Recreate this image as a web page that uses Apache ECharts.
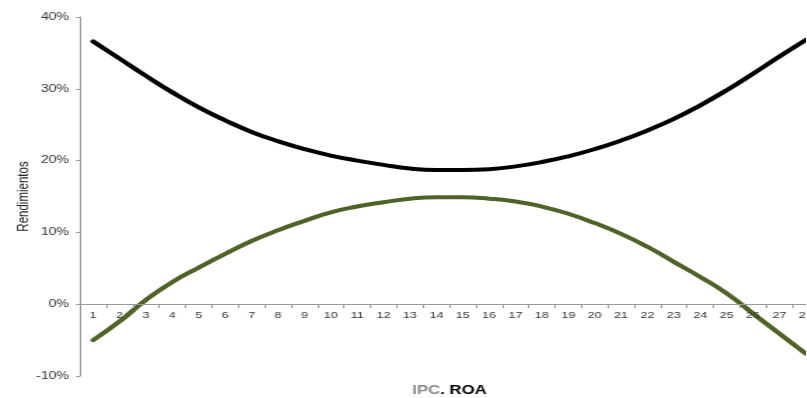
<!DOCTYPE html>
<html>
<head>
<meta charset="utf-8">
<script src="https://cdn.jsdelivr.net/npm/echarts@6/dist/echarts.min.js"></script>
<style>
  html, body { margin: 0; padding: 0; background: #fff; overflow: hidden; }
  /* chart is laid out narrow and widened horizontally */
  #chart { width: 576.43px; height: 398px; transform: scaleX(1.4); transform-origin: 0 0; }
</style>
</head>
<body>
<div id="chart"></div>
<script>
// Periods on the horizontal axis
const periods = ['1','2','3','4','5','6','7','8','9','10','11','12','13','14','15','16','17','18','19','20','21','22','23','24','25','26','27','28'];

// Upper band (percent)
const upperBand = [36.6, 34.2, 31.8, 29.5, 27.4, 25.6, 24.0, 22.7, 21.6, 20.7, 20.0, 19.4, 18.9, 18.7,
                   18.7, 18.8, 19.2, 19.8, 20.6, 21.6, 22.8, 24.2, 25.8, 27.7, 29.8, 32.1, 34.5, 36.8];

// Lower band (percent)
const lowerBand = [-5.0, -2.4, 0.6, 3.1, 5.1, 7.0, 8.8, 10.3, 11.6, 12.8, 13.6, 14.2, 14.7, 14.9,
                   14.9, 14.7, 14.3, 13.6, 12.6, 11.3, 9.8, 8.0, 5.9, 3.8, 1.5, -1.3, -4.1, -6.9];

// Value axis ticks (percent)
const yTicks = { min: -10, max: 40, step: 10 };

const axisGray = '#9a9a9a';
const fontFamily = '"Liberation Sans", Arial, sans-serif';

const gridTop = 17;
const gridHeight = 359;
// the category axis sits on the 0% line, lifted from the grid bottom
const zeroLift = gridHeight * (0 - yTicks.min) / (yTicks.max - yTicks.min);

const chart = echarts.init(document.getElementById('chart'));
chart.setOption({
  animation: false,
  backgroundColor: '#fff',
  grid: { left: 57.14, top: gridTop, width: 527.86, height: gridHeight, containLabel: false, outerBoundsMode: 'none' },
  xAxis: {
    type: 'category',
    data: periods,
    boundaryGap: true,
    position: 'bottom',
    offset: -zeroLift,
    z: 5,
    name: '{a|IPC}{b|. ROA}',
    nameLocation: 'middle',
    nameGap: 80,
    nameMoveOverlap: false,
    nameTextStyle: {
      rich: {
        a: { fontFamily, fontSize: 12, fontWeight: 'bold', color: '#8c8c8c' },
        b: { fontFamily, fontSize: 12, fontWeight: 'bold', color: '#000' }
      }
    },
    axisLine: { show: true, onZero: false, lineStyle: { color: axisGray, width: 1 } },
    axisTick: { show: true, inside: false, length: 4, lineStyle: { color: axisGray } },
    axisLabel: { interval: 0, margin: 7, fontFamily, fontSize: 9, color: '#333' },
    splitLine: { show: false }
  },
  yAxis: {
    type: 'value',
    min: yTicks.min,
    max: yTicks.max,
    interval: yTicks.step,
    name: 'Rendimientos',
    nameLocation: 'middle',
    nameGap: 34,
    nameMoveOverlap: false,
    nameTextStyle: { fontFamily, fontSize: 11.5, color: '#222' },
    axisLine: { show: true, lineStyle: { color: axisGray, width: 1 } },
    axisTick: { show: true, inside: false, length: 3, lineStyle: { color: axisGray } },
    axisLabel: { margin: 8, fontFamily, fontSize: 10, color: '#333', formatter: '{value}%' },
    splitLine: { show: false }
  },
  series: [
    {
      type: 'line',
      data: upperBand,
      smooth: true,
      showSymbol: false,
      lineStyle: { color: '#000', width: 4, cap: 'round', join: 'round' },
      z: 3
    },
    {
      type: 'line',
      data: lowerBand,
      smooth: true,
      showSymbol: false,
      lineStyle: { color: '#4f6228', width: 4, cap: 'round', join: 'round' },
      z: 3
    }
  ]
});
</script>
</body>
</html>
